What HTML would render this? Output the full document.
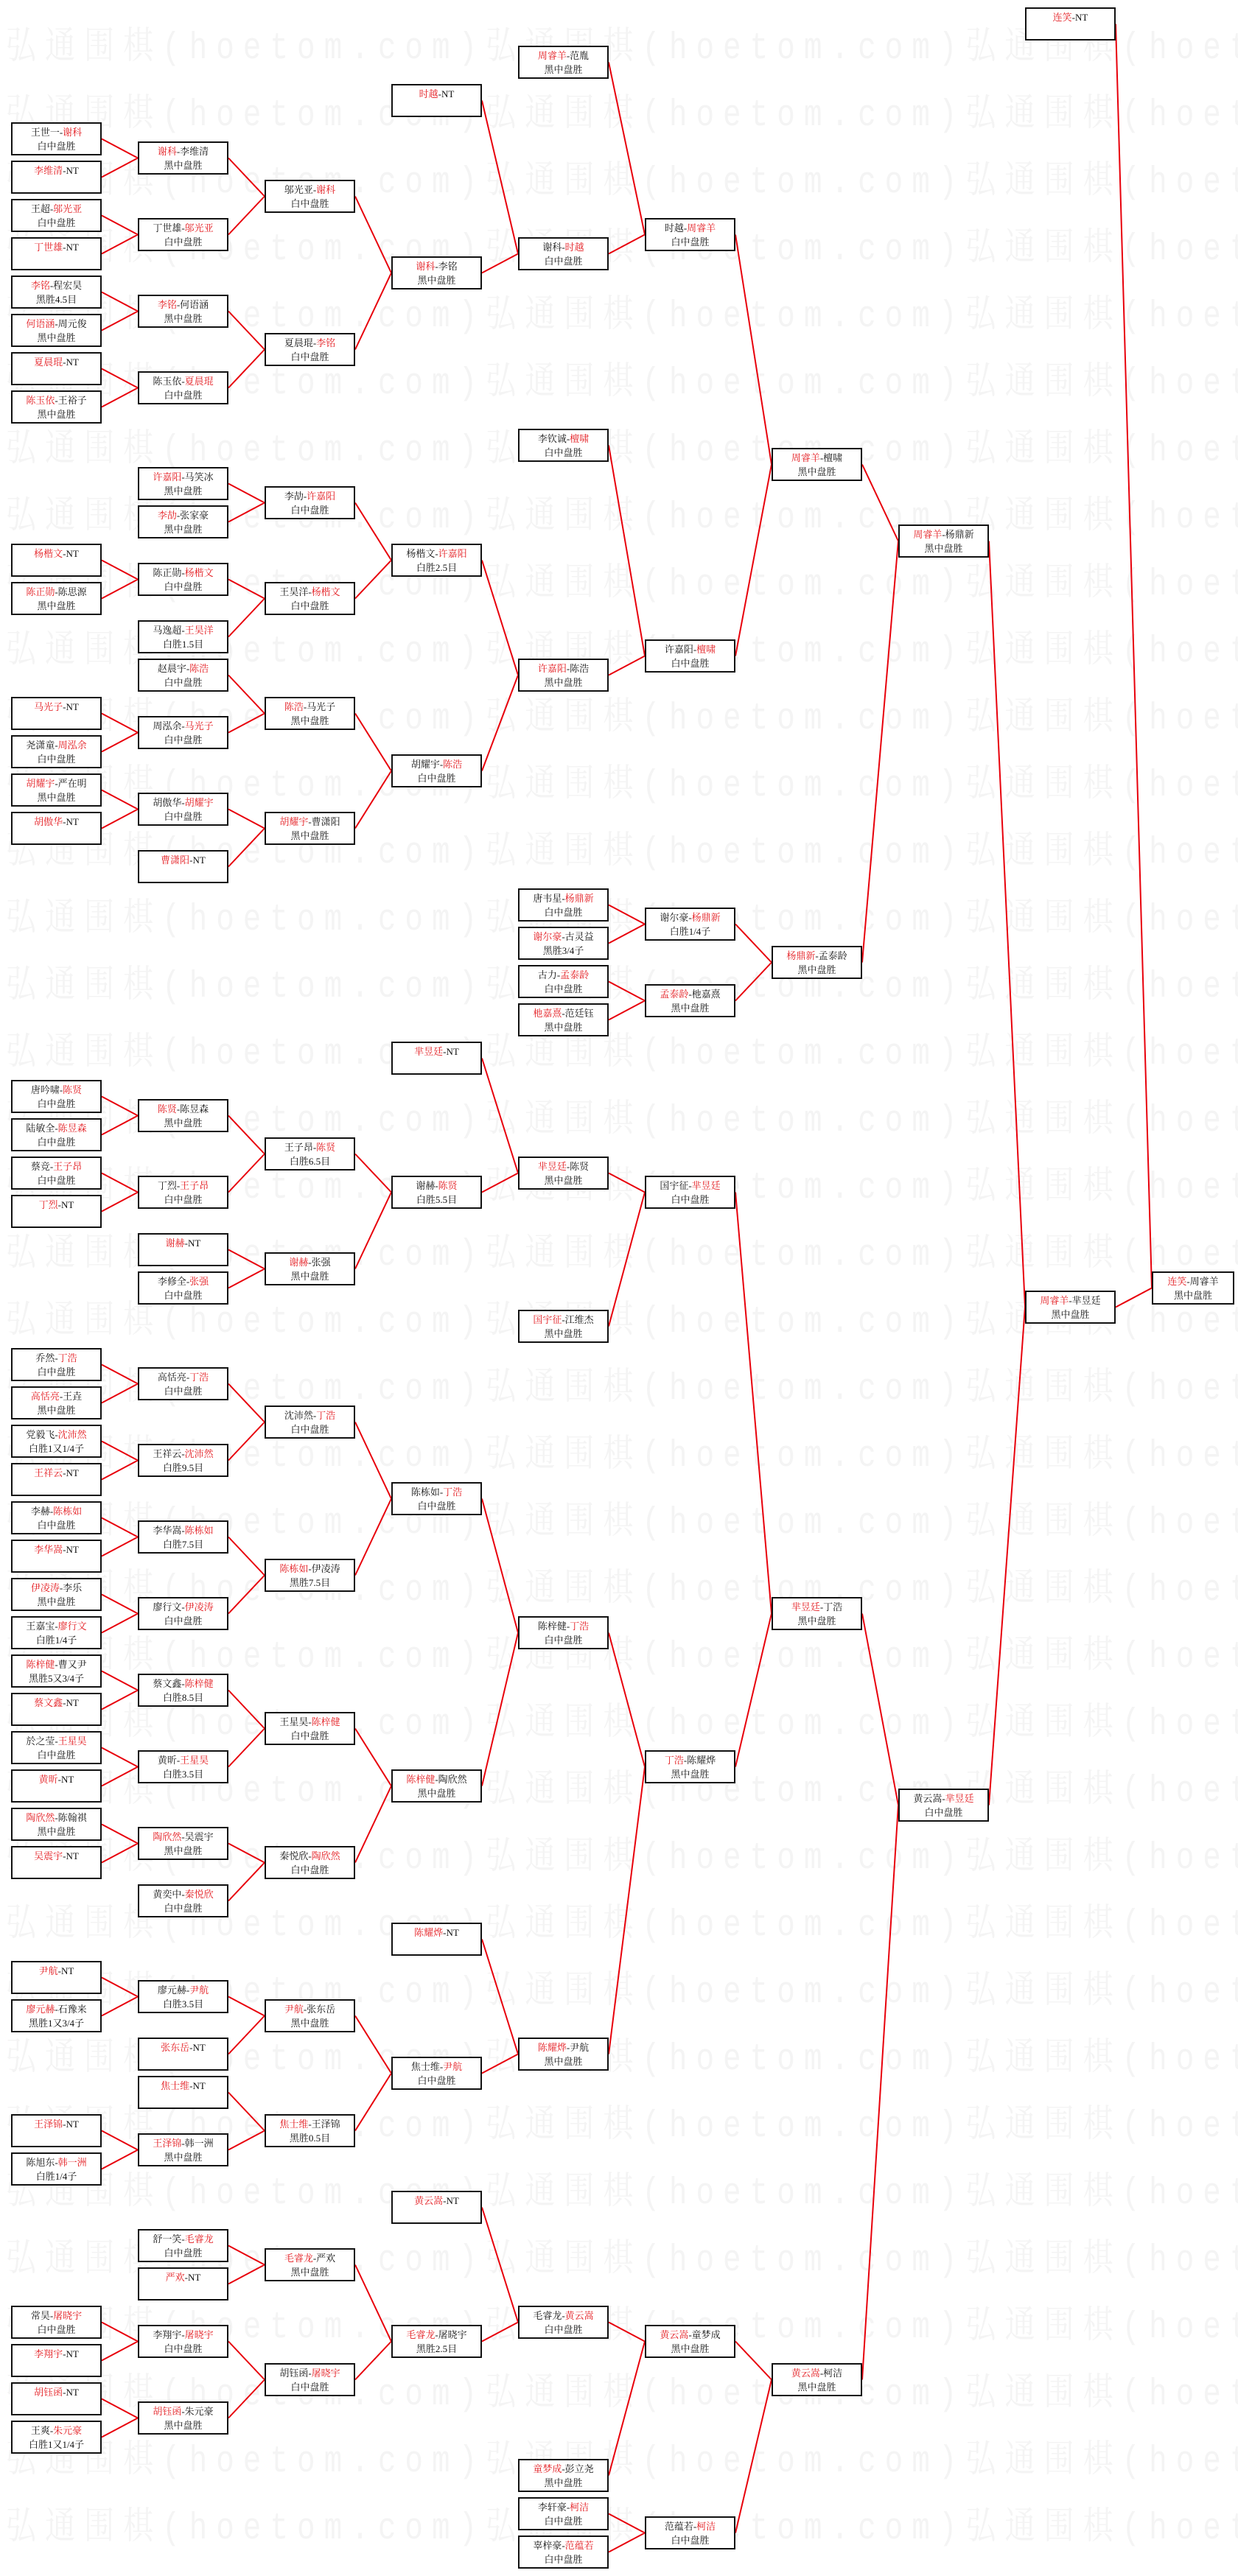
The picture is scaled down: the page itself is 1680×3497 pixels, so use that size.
<!DOCTYPE html>
<html><head><meta charset="utf-8">
<style>
html,body{margin:0;padding:0;}
body{width:1680px;height:3497px;position:relative;background:#fff;overflow:hidden;font-family:"Liberation Serif","Noto Serif CJK SC","Noto Sans CJK SC",serif;}
.wm{position:absolute;left:8px;white-space:nowrap;color:#f4f4f4;font-size:41px;line-height:50px;letter-spacing:12px;font-family:"Liberation Mono","Noto Serif CJK SC",monospace;transform:scaleY(1.25);transform-origin:0 0;}
svg{position:absolute;left:0;top:0;}
.b{position:absolute;width:123px;height:45px;box-sizing:border-box;border:2px solid #111;background:#fff;font-size:13px;line-height:19px;padding-top:2px;text-align:center;color:#111;white-space:nowrap;}
.b i{font-style:normal;color:#e3161b;}
.c1{left:15px}.c2{left:187px}.c3{left:359px}.c4{left:531px}.c5{left:703px}.c6{left:875px}.c7{left:1047px}.c8{left:1219px}.c9{left:1391px}.c10{left:1563px}
</style></head><body>
<div class="wm" style="top:35px">弘通围棋(hoetom.com)弘通围棋(hoetom.com)弘通围棋(hoetom.com)</div>
<div class="wm" style="top:126px">弘通围棋(hoetom.com)弘通围棋(hoetom.com)弘通围棋(hoetom.com)</div>
<div class="wm" style="top:217px">弘通围棋(hoetom.com)弘通围棋(hoetom.com)弘通围棋(hoetom.com)</div>
<div class="wm" style="top:308px">弘通围棋(hoetom.com)弘通围棋(hoetom.com)弘通围棋(hoetom.com)</div>
<div class="wm" style="top:399px">弘通围棋(hoetom.com)弘通围棋(hoetom.com)弘通围棋(hoetom.com)</div>
<div class="wm" style="top:490px">弘通围棋(hoetom.com)弘通围棋(hoetom.com)弘通围棋(hoetom.com)</div>
<div class="wm" style="top:581px">弘通围棋(hoetom.com)弘通围棋(hoetom.com)弘通围棋(hoetom.com)</div>
<div class="wm" style="top:672px">弘通围棋(hoetom.com)弘通围棋(hoetom.com)弘通围棋(hoetom.com)</div>
<div class="wm" style="top:763px">弘通围棋(hoetom.com)弘通围棋(hoetom.com)弘通围棋(hoetom.com)</div>
<div class="wm" style="top:854px">弘通围棋(hoetom.com)弘通围棋(hoetom.com)弘通围棋(hoetom.com)</div>
<div class="wm" style="top:945px">弘通围棋(hoetom.com)弘通围棋(hoetom.com)弘通围棋(hoetom.com)</div>
<div class="wm" style="top:1036px">弘通围棋(hoetom.com)弘通围棋(hoetom.com)弘通围棋(hoetom.com)</div>
<div class="wm" style="top:1127px">弘通围棋(hoetom.com)弘通围棋(hoetom.com)弘通围棋(hoetom.com)</div>
<div class="wm" style="top:1218px">弘通围棋(hoetom.com)弘通围棋(hoetom.com)弘通围棋(hoetom.com)</div>
<div class="wm" style="top:1309px">弘通围棋(hoetom.com)弘通围棋(hoetom.com)弘通围棋(hoetom.com)</div>
<div class="wm" style="top:1400px">弘通围棋(hoetom.com)弘通围棋(hoetom.com)弘通围棋(hoetom.com)</div>
<div class="wm" style="top:1491px">弘通围棋(hoetom.com)弘通围棋(hoetom.com)弘通围棋(hoetom.com)</div>
<div class="wm" style="top:1582px">弘通围棋(hoetom.com)弘通围棋(hoetom.com)弘通围棋(hoetom.com)</div>
<div class="wm" style="top:1673px">弘通围棋(hoetom.com)弘通围棋(hoetom.com)弘通围棋(hoetom.com)</div>
<div class="wm" style="top:1764px">弘通围棋(hoetom.com)弘通围棋(hoetom.com)弘通围棋(hoetom.com)</div>
<div class="wm" style="top:1855px">弘通围棋(hoetom.com)弘通围棋(hoetom.com)弘通围棋(hoetom.com)</div>
<div class="wm" style="top:1946px">弘通围棋(hoetom.com)弘通围棋(hoetom.com)弘通围棋(hoetom.com)</div>
<div class="wm" style="top:2037px">弘通围棋(hoetom.com)弘通围棋(hoetom.com)弘通围棋(hoetom.com)</div>
<div class="wm" style="top:2128px">弘通围棋(hoetom.com)弘通围棋(hoetom.com)弘通围棋(hoetom.com)</div>
<div class="wm" style="top:2219px">弘通围棋(hoetom.com)弘通围棋(hoetom.com)弘通围棋(hoetom.com)</div>
<div class="wm" style="top:2310px">弘通围棋(hoetom.com)弘通围棋(hoetom.com)弘通围棋(hoetom.com)</div>
<div class="wm" style="top:2401px">弘通围棋(hoetom.com)弘通围棋(hoetom.com)弘通围棋(hoetom.com)</div>
<div class="wm" style="top:2492px">弘通围棋(hoetom.com)弘通围棋(hoetom.com)弘通围棋(hoetom.com)</div>
<div class="wm" style="top:2583px">弘通围棋(hoetom.com)弘通围棋(hoetom.com)弘通围棋(hoetom.com)</div>
<div class="wm" style="top:2674px">弘通围棋(hoetom.com)弘通围棋(hoetom.com)弘通围棋(hoetom.com)</div>
<div class="wm" style="top:2765px">弘通围棋(hoetom.com)弘通围棋(hoetom.com)弘通围棋(hoetom.com)</div>
<div class="wm" style="top:2856px">弘通围棋(hoetom.com)弘通围棋(hoetom.com)弘通围棋(hoetom.com)</div>
<div class="wm" style="top:2947px">弘通围棋(hoetom.com)弘通围棋(hoetom.com)弘通围棋(hoetom.com)</div>
<div class="wm" style="top:3038px">弘通围棋(hoetom.com)弘通围棋(hoetom.com)弘通围棋(hoetom.com)</div>
<div class="wm" style="top:3129px">弘通围棋(hoetom.com)弘通围棋(hoetom.com)弘通围棋(hoetom.com)</div>
<div class="wm" style="top:3220px">弘通围棋(hoetom.com)弘通围棋(hoetom.com)弘通围棋(hoetom.com)</div>
<div class="wm" style="top:3311px">弘通围棋(hoetom.com)弘通围棋(hoetom.com)弘通围棋(hoetom.com)</div>
<div class="wm" style="top:3402px">弘通围棋(hoetom.com)弘通围棋(hoetom.com)弘通围棋(hoetom.com)</div>

<svg width="1680" height="3497" viewBox="0 0 1680 3497">
<path fill="none" stroke="#e8000b" stroke-width="2" d="
M138 188.5L187 214.5M138 240.5L187 214.5M138 292.5L187 318.5M138 344.5L187 318.5
M138 396.5L187 422.5M138 448.5L187 422.5M138 500.5L187 526.5M138 552.5L187 526.5
M138 760.5L187 786.5M138 812.5L187 786.5M138 968.5L187 994.5M138 1020.5L187 994.5
M138 1072.5L187 1098.5M138 1124.5L187 1098.5
M138 1488.5L187 1514.5M138 1540.5L187 1514.5M138 1592.5L187 1618.5M138 1644.5L187 1618.5
M138 1852.5L187 1878.5M138 1904.5L187 1878.5M138 1956.5L187 1982.5M138 2008.5L187 1982.5
M138 2060.5L187 2086.5M138 2112.5L187 2086.5M138 2164.5L187 2190.5M138 2216.5L187 2190.5
M138 2268.5L187 2294.5M138 2320.5L187 2294.5M138 2372.5L187 2398.5M138 2424.5L187 2398.5
M138 2476.5L187 2502.5M138 2528.5L187 2502.5
M138 2684.5L187 2710.5M138 2736.5L187 2710.5M138 2892.5L187 2918.5M138 2944.5L187 2918.5
M138 3152.5L187 3178.5M138 3204.5L187 3178.5M138 3256.5L187 3282.5M138 3308.5L187 3282.5
M310 214.5L359 266.5M310 318.5L359 266.5M310 422.5L359 474.5M310 526.5L359 474.5
M310 656.5L359 682.5M310 708.5L359 682.5M310 786.5L359 812.5M310 864.5L359 812.5
M310 916.5L359 968.5M310 994.5L359 968.5M310 1098.5L359 1124.5M310 1176.5L359 1124.5
M310 1514.5L359 1566.5M310 1618.5L359 1566.5M310 1696.5L359 1722.5M310 1748.5L359 1722.5
M310 1878.5L359 1930.5M310 1982.5L359 1930.5M310 2086.5L359 2138.5M310 2190.5L359 2138.5
M310 2294.5L359 2346.5M310 2398.5L359 2346.5M310 2502.5L359 2528.5M310 2580.5L359 2528.5
M310 2710.5L359 2736.5M310 2788.5L359 2736.5M310 2840.5L359 2892.5M310 2918.5L359 2892.5
M310 3048.5L359 3074.5M310 3100.5L359 3074.5M310 3178.5L359 3230.5M310 3282.5L359 3230.5
M482 266.5L531 370.5M482 474.5L531 370.5M482 682.5L531 760.5M482 812.5L531 760.5
M482 968.5L531 1046.5M482 1124.5L531 1046.5M482 1566.5L531 1618.5M482 1722.5L531 1618.5
M482 1930.5L531 2034.5M482 2138.5L531 2034.5M482 2346.5L531 2424.5M482 2528.5L531 2424.5
M482 2736.5L531 2814.5M482 2892.5L531 2814.5M482 3074.5L531 3178.5M482 3230.5L531 3178.5
M654 136.5L703 344.5M654 370.5L703 344.5M654 760.5L703 916.5M654 1046.5L703 916.5
M654 1436.5L703 1592.5M654 1618.5L703 1592.5M654 2034.5L703 2216.5M654 2424.5L703 2216.5
M654 2632.5L703 2788.5M654 2814.5L703 2788.5M654 2996.5L703 3152.5M654 3178.5L703 3152.5
M826 84.5L875 318.5M826 344.5L875 318.5M826 604.5L875 890.5M826 916.5L875 890.5
M826 1228.5L875 1254.5M826 1280.5L875 1254.5M826 1332.5L875 1358.5M826 1384.5L875 1358.5
M826 1592.5L875 1618.5M826 1800.5L875 1618.5M826 2216.5L875 2398.5M826 2788.5L875 2398.5
M826 3152.5L875 3178.5M826 3360.5L875 3178.5M826 3412.5L875 3438.5M826 3464.5L875 3438.5
M998 318.5L1047 630.5M998 890.5L1047 630.5M998 1254.5L1047 1306.5M998 1358.5L1047 1306.5
M998 1618.5L1047 2190.5M998 2398.5L1047 2190.5M998 3178.5L1047 3230.5M998 3438.5L1047 3230.5
M1170 630.5L1219 734.5M1170 1306.5L1219 734.5M1170 2190.5L1219 2450.5M1170 3230.5L1219 2450.5
M1342 734.5L1391 1774.5M1342 2450.5L1391 1774.5
M1514 32.5L1563 1748.5M1514 1774.5L1563 1748.5
"/>
</svg>

<div class="b c1" style="top:166px">王世一-<i>谢科</i><br>白中盘胜</div>
<div class="b c1" style="top:218px"><i>李维清</i>-NT</div>
<div class="b c1" style="top:270px">王超-<i>邬光亚</i><br>白中盘胜</div>
<div class="b c1" style="top:322px"><i>丁世雄</i>-NT</div>
<div class="b c1" style="top:374px"><i>李铭</i>-程宏昊<br>黑胜4.5目</div>
<div class="b c1" style="top:426px"><i>何语涵</i>-周元俊<br>黑中盘胜</div>
<div class="b c1" style="top:478px"><i>夏晨琨</i>-NT</div>
<div class="b c1" style="top:530px"><i>陈玉依</i>-王裕子<br>黑中盘胜</div>
<div class="b c1" style="top:738px"><i>杨楷文</i>-NT</div>
<div class="b c1" style="top:790px"><i>陈正勋</i>-陈思源<br>黑中盘胜</div>
<div class="b c1" style="top:946px"><i>马光子</i>-NT</div>
<div class="b c1" style="top:998px">尧潇童-<i>周泓余</i><br>白中盘胜</div>
<div class="b c1" style="top:1050px"><i>胡耀宇</i>-严在明<br>黑中盘胜</div>
<div class="b c1" style="top:1102px"><i>胡傲华</i>-NT</div>
<div class="b c1" style="top:1466px">唐吟啸-<i>陈贤</i><br>白中盘胜</div>
<div class="b c1" style="top:1518px">陆敏全-<i>陈昱森</i><br>白中盘胜</div>
<div class="b c1" style="top:1570px">蔡竞-<i>王子昂</i><br>白中盘胜</div>
<div class="b c1" style="top:1622px"><i>丁烈</i>-NT</div>
<div class="b c1" style="top:1830px">乔然-<i>丁浩</i><br>白中盘胜</div>
<div class="b c1" style="top:1882px"><i>高恬亮</i>-王垚<br>黑中盘胜</div>
<div class="b c1" style="top:1934px">党毅飞-<i>沈沛然</i><br>白胜1又1/4子</div>
<div class="b c1" style="top:1986px"><i>王祥云</i>-NT</div>
<div class="b c1" style="top:2038px">李赫-<i>陈栋如</i><br>白中盘胜</div>
<div class="b c1" style="top:2090px"><i>李华嵩</i>-NT</div>
<div class="b c1" style="top:2142px"><i>伊凌涛</i>-李乐<br>黑中盘胜</div>
<div class="b c1" style="top:2194px">王嘉宝-<i>廖行文</i><br>白胜1/4子</div>
<div class="b c1" style="top:2246px"><i>陈梓健</i>-曹又尹<br>黑胜5又3/4子</div>
<div class="b c1" style="top:2298px"><i>蔡文鑫</i>-NT</div>
<div class="b c1" style="top:2350px">於之莹-<i>王星昊</i><br>白中盘胜</div>
<div class="b c1" style="top:2402px"><i>黄昕</i>-NT</div>
<div class="b c1" style="top:2454px"><i>陶欣然</i>-陈翰祺<br>黑中盘胜</div>
<div class="b c1" style="top:2506px"><i>吴震宇</i>-NT</div>
<div class="b c1" style="top:2662px"><i>尹航</i>-NT</div>
<div class="b c1" style="top:2714px"><i>廖元赫</i>-石豫来<br>黑胜1又3/4子</div>
<div class="b c1" style="top:2870px"><i>王泽锦</i>-NT</div>
<div class="b c1" style="top:2922px">陈旭东-<i>韩一洲</i><br>白胜1/4子</div>
<div class="b c1" style="top:3130px">常昊-<i>屠晓宇</i><br>白中盘胜</div>
<div class="b c1" style="top:3182px"><i>李翔宇</i>-NT</div>
<div class="b c1" style="top:3234px"><i>胡钰函</i>-NT</div>
<div class="b c1" style="top:3286px">王爽-<i>朱元豪</i><br>白胜1又1/4子</div>

<div class="b c2" style="top:192px"><i>谢科</i>-李维清<br>黑中盘胜</div>
<div class="b c2" style="top:296px">丁世雄-<i>邬光亚</i><br>白中盘胜</div>
<div class="b c2" style="top:400px"><i>李铭</i>-何语涵<br>黑中盘胜</div>
<div class="b c2" style="top:504px">陈玉依-<i>夏晨琨</i><br>白中盘胜</div>
<div class="b c2" style="top:634px"><i>许嘉阳</i>-马笑冰<br>黑中盘胜</div>
<div class="b c2" style="top:686px"><i>李劼</i>-张家豪<br>黑中盘胜</div>
<div class="b c2" style="top:764px">陈正勋-<i>杨楷文</i><br>白中盘胜</div>
<div class="b c2" style="top:842px">马逸超-<i>王昊洋</i><br>白胜1.5目</div>
<div class="b c2" style="top:894px">赵晨宇-<i>陈浩</i><br>白中盘胜</div>
<div class="b c2" style="top:972px">周泓余-<i>马光子</i><br>白中盘胜</div>
<div class="b c2" style="top:1076px">胡傲华-<i>胡耀宇</i><br>白中盘胜</div>
<div class="b c2" style="top:1154px"><i>曹潇阳</i>-NT</div>
<div class="b c2" style="top:1492px"><i>陈贤</i>-陈昱森<br>黑中盘胜</div>
<div class="b c2" style="top:1596px">丁烈-<i>王子昂</i><br>白中盘胜</div>
<div class="b c2" style="top:1674px"><i>谢赫</i>-NT</div>
<div class="b c2" style="top:1726px">李修全-<i>张强</i><br>白中盘胜</div>
<div class="b c2" style="top:1856px">高恬亮-<i>丁浩</i><br>白中盘胜</div>
<div class="b c2" style="top:1960px">王祥云-<i>沈沛然</i><br>白胜9.5目</div>
<div class="b c2" style="top:2064px">李华嵩-<i>陈栋如</i><br>白胜7.5目</div>
<div class="b c2" style="top:2168px">廖行文-<i>伊凌涛</i><br>白中盘胜</div>
<div class="b c2" style="top:2272px">蔡文鑫-<i>陈梓健</i><br>白胜8.5目</div>
<div class="b c2" style="top:2376px">黄昕-<i>王星昊</i><br>白胜3.5目</div>
<div class="b c2" style="top:2480px"><i>陶欣然</i>-吴震宇<br>黑中盘胜</div>
<div class="b c2" style="top:2558px">黄奕中-<i>秦悦欣</i><br>白中盘胜</div>
<div class="b c2" style="top:2688px">廖元赫-<i>尹航</i><br>白胜3.5目</div>
<div class="b c2" style="top:2766px"><i>张东岳</i>-NT</div>
<div class="b c2" style="top:2818px"><i>焦士维</i>-NT</div>
<div class="b c2" style="top:2896px"><i>王泽锦</i>-韩一洲<br>黑中盘胜</div>
<div class="b c2" style="top:3026px">舒一笑-<i>毛睿龙</i><br>白中盘胜</div>
<div class="b c2" style="top:3078px"><i>严欢</i>-NT</div>
<div class="b c2" style="top:3156px">李翔宇-<i>屠晓宇</i><br>白中盘胜</div>
<div class="b c2" style="top:3260px"><i>胡钰函</i>-朱元豪<br>黑中盘胜</div>

<div class="b c3" style="top:244px">邬光亚-<i>谢科</i><br>白中盘胜</div>
<div class="b c3" style="top:452px">夏晨琨-<i>李铭</i><br>白中盘胜</div>
<div class="b c3" style="top:660px">李劼-<i>许嘉阳</i><br>白中盘胜</div>
<div class="b c3" style="top:790px">王昊洋-<i>杨楷文</i><br>白中盘胜</div>
<div class="b c3" style="top:946px"><i>陈浩</i>-马光子<br>黑中盘胜</div>
<div class="b c3" style="top:1102px"><i>胡耀宇</i>-曹潇阳<br>黑中盘胜</div>
<div class="b c3" style="top:1544px">王子昂-<i>陈贤</i><br>白胜6.5目</div>
<div class="b c3" style="top:1700px"><i>谢赫</i>-张强<br>黑中盘胜</div>
<div class="b c3" style="top:1908px">沈沛然-<i>丁浩</i><br>白中盘胜</div>
<div class="b c3" style="top:2116px"><i>陈栋如</i>-伊凌涛<br>黑胜7.5目</div>
<div class="b c3" style="top:2324px">王星昊-<i>陈梓健</i><br>白中盘胜</div>
<div class="b c3" style="top:2506px">秦悦欣-<i>陶欣然</i><br>白中盘胜</div>
<div class="b c3" style="top:2714px"><i>尹航</i>-张东岳<br>黑中盘胜</div>
<div class="b c3" style="top:2870px"><i>焦士维</i>-王泽锦<br>黑胜0.5目</div>
<div class="b c3" style="top:3052px"><i>毛睿龙</i>-严欢<br>黑中盘胜</div>
<div class="b c3" style="top:3208px">胡钰函-<i>屠晓宇</i><br>白中盘胜</div>

<div class="b c4" style="top:114px"><i>时越</i>-NT</div>
<div class="b c4" style="top:348px"><i>谢科</i>-李铭<br>黑中盘胜</div>
<div class="b c4" style="top:738px">杨楷文-<i>许嘉阳</i><br>白胜2.5目</div>
<div class="b c4" style="top:1024px">胡耀宇-<i>陈浩</i><br>白中盘胜</div>
<div class="b c4" style="top:1414px"><i>芈昱廷</i>-NT</div>
<div class="b c4" style="top:1596px">谢赫-<i>陈贤</i><br>白胜5.5目</div>
<div class="b c4" style="top:2012px">陈栋如-<i>丁浩</i><br>白中盘胜</div>
<div class="b c4" style="top:2402px"><i>陈梓健</i>-陶欣然<br>黑中盘胜</div>
<div class="b c4" style="top:2610px"><i>陈耀烨</i>-NT</div>
<div class="b c4" style="top:2792px">焦士维-<i>尹航</i><br>白中盘胜</div>
<div class="b c4" style="top:2974px"><i>黄云嵩</i>-NT</div>
<div class="b c4" style="top:3156px"><i>毛睿龙</i>-屠晓宇<br>黑胜2.5目</div>

<div class="b c5" style="top:62px"><i>周睿羊</i>-范胤<br>黑中盘胜</div>
<div class="b c5" style="top:322px">谢科-<i>时越</i><br>白中盘胜</div>
<div class="b c5" style="top:582px">李钦诚-<i>檀啸</i><br>白中盘胜</div>
<div class="b c5" style="top:894px"><i>许嘉阳</i>-陈浩<br>黑中盘胜</div>
<div class="b c5" style="top:1206px">唐韦星-<i>杨鼎新</i><br>白中盘胜</div>
<div class="b c5" style="top:1258px"><i>谢尔豪</i>-古灵益<br>黑胜3/4子</div>
<div class="b c5" style="top:1310px">古力-<i>孟泰龄</i><br>白中盘胜</div>
<div class="b c5" style="top:1362px"><i>杝嘉熹</i>-范廷钰<br>黑中盘胜</div>
<div class="b c5" style="top:1570px"><i>芈昱廷</i>-陈贤<br>黑中盘胜</div>
<div class="b c5" style="top:1778px"><i>国宇征</i>-江维杰<br>黑中盘胜</div>
<div class="b c5" style="top:2194px">陈梓健-<i>丁浩</i><br>白中盘胜</div>
<div class="b c5" style="top:2766px"><i>陈耀烨</i>-尹航<br>黑中盘胜</div>
<div class="b c5" style="top:3130px">毛睿龙-<i>黄云嵩</i><br>白中盘胜</div>
<div class="b c5" style="top:3338px"><i>童梦成</i>-彭立尧<br>黑中盘胜</div>
<div class="b c5" style="top:3390px">李轩豪-<i>柯洁</i><br>白中盘胜</div>
<div class="b c5" style="top:3442px">辜梓豪-<i>范蕴若</i><br>白中盘胜</div>

<div class="b c6" style="top:296px">时越-<i>周睿羊</i><br>白中盘胜</div>
<div class="b c6" style="top:868px">许嘉阳-<i>檀啸</i><br>白中盘胜</div>
<div class="b c6" style="top:1232px">谢尔豪-<i>杨鼎新</i><br>白胜1/4子</div>
<div class="b c6" style="top:1336px"><i>孟泰龄</i>-杝嘉熹<br>黑中盘胜</div>
<div class="b c6" style="top:1596px">国宇征-<i>芈昱廷</i><br>白中盘胜</div>
<div class="b c6" style="top:2376px"><i>丁浩</i>-陈耀烨<br>黑中盘胜</div>
<div class="b c6" style="top:3156px"><i>黄云嵩</i>-童梦成<br>黑中盘胜</div>
<div class="b c6" style="top:3416px">范蕴若-<i>柯洁</i><br>白中盘胜</div>

<div class="b c7" style="top:608px"><i>周睿羊</i>-檀啸<br>黑中盘胜</div>
<div class="b c7" style="top:1284px"><i>杨鼎新</i>-孟泰龄<br>黑中盘胜</div>
<div class="b c7" style="top:2168px"><i>芈昱廷</i>-丁浩<br>黑中盘胜</div>
<div class="b c7" style="top:3208px"><i>黄云嵩</i>-柯洁<br>黑中盘胜</div>

<div class="b c8" style="top:712px"><i>周睿羊</i>-杨鼎新<br>黑中盘胜</div>
<div class="b c8" style="top:2428px">黄云嵩-<i>芈昱廷</i><br>白中盘胜</div>

<div class="b c9" style="top:10px"><i>连笑</i>-NT</div>
<div class="b c9" style="top:1752px"><i>周睿羊</i>-芈昱廷<br>黑中盘胜</div>

<div class="b c10" style="top:1726px;width:112px"><i>连笑</i>-周睿羊<br>黑中盘胜</div>
</body></html>
